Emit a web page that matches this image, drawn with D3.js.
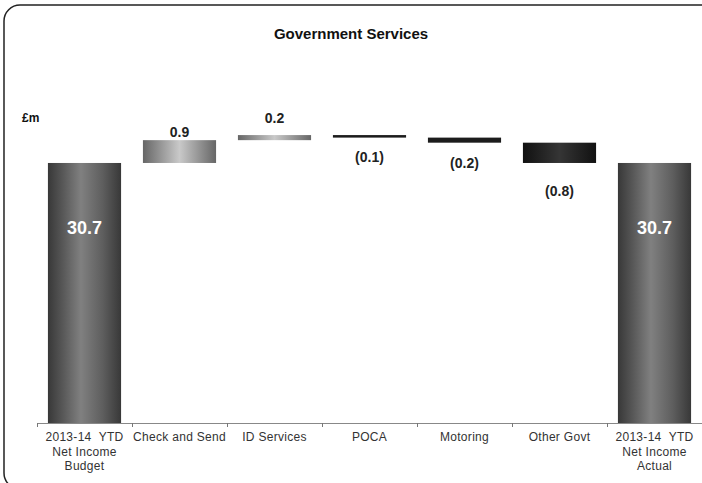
<!DOCTYPE html>
<html>
<head>
<meta charset="utf-8">
<script src="https://cdn.jsdelivr.net/npm/d3@7"></script>
<style>
  body { margin: 0; background: #fff; }
  svg { display: block; font-family: "Liberation Sans", Arial, sans-serif; }
</style>
</head>
<body>
<div id="chart"></div>
<script>
// waterfall data
const categories = ["Budget", "Check and Send", "ID Services", "POCA", "Motoring", "Other Govt", "Actual"];
const categoryLines = [
    ["2013-14  YTD", "Net Income", "Budget"],
    ["Check and Send"],
    ["ID Services"],
    ["POCA"],
    ["Motoring"],
    ["Other Govt"],
    ["2013-14  YTD", "Net Income", "Actual"]
];
const values = [30.7, 0.9, 0.2, -0.1, -0.2, -0.8, 30.7];
const isTotal = [true, false, false, false, false, false, true];
const valueLabels = ["30.7", "0.9", "0.2", "(0.1)", "(0.2)", "(0.8)", "30.7"];

function renderWaterfall(selector) {
    const W = 702, H = 483;
    const svg = d3.select(selector).append("svg")
        .attr("width", W)
        .attr("height", H);

    const defs = svg.append("defs");
    function grad(id, stops) {
        const g = defs.append("linearGradient").attr("id", id)
            .attr("x1", "0%").attr("x2", "100%").attr("y1", "0%").attr("y2", "0%");
        stops.forEach(s => g.append("stop").attr("offset", s[0]).attr("stop-color", s[1]));
    }
    grad("gTotal", [[0, "#383838"], [0.2, "#575757"], [0.45, "#808080"], [0.75, "#5e5e5e"], [1, "#383838"]]);
    grad("gUp", [[0, "#666"], [0.5, "#c9c9c9"], [1, "#666"]]);
    grad("gDown", [[0, "#111"], [0.5, "#353535"], [1, "#111"]]);

    // frame
    svg.append("rect")
        .attr("x", 4).attr("y", 5)
        .attr("width", 730).attr("height", 484)
        .attr("rx", 16)
        .attr("fill", "none")
        .attr("stroke", "#222")
        .attr("stroke-width", 1.5);

    svg.append("text")
        .attr("x", 351).attr("y", 39)
        .attr("text-anchor", "middle")
        .style("font-size", "15px").style("font-weight", "bold").style("fill", "#111")
        .text("Government Services");

    svg.append("text")
        .attr("x", 22).attr("y", 122)
        .style("font-size", "12px").style("font-weight", "bold").style("fill", "#111")
        .text("£m");

    const x = d3.scaleBand()
        .domain(categories)
        .range([37, 702])
        .paddingInner(0.23)
        .paddingOuter(0.115);

    const y = d3.scaleLinear()
        .domain([20.45, 32])
        .range([423, 130]);

    // running totals
    let run = 0;
    const bars = categories.map((c, i) => {
        let start, end;
        if (isTotal[i]) { start = y.domain()[0]; end = values[i]; run = values[i]; }
        else { start = run; end = run + values[i]; run = end; }
        return {cat: c, v: values[i], total: isTotal[i], lo: Math.min(start, end), hi: Math.max(start, end), label: valueLabels[i]};
    });

    const g = svg.append("g");
    g.selectAll("rect.bar")
        .data(bars)
        .enter()
        .append("rect")
        .attr("class", "bar")
        .attr("x", d => x(d.cat))
        .attr("width", x.bandwidth())
        .attr("y", d => y(d.hi))
        .attr("height", d => Math.max(2, y(d.lo) - y(d.hi)))
        .attr("fill", d => d.total ? "url(#gTotal)" : (d.v > 0 ? "url(#gUp)" : (d.v <= -0.5 ? "url(#gDown)" : "#1c1c1c")));

    // value labels
    g.selectAll("text.val")
        .data(bars)
        .enter()
        .append("text")
        .attr("class", "val")
        .attr("x", d => x(d.cat) + x.bandwidth() / 2)
        .attr("y", d => {
            const h = y(d.lo) - y(d.hi);
            if (d.total) return y(d.hi) + 71;
            if (d.v > 0) return y(d.hi) - 15 + h / 2;
            return y(d.lo) + 23 + h / 2;
        })
        .attr("text-anchor", "middle")
        .style("font-weight", "bold")
        .style("font-size", d => d.total ? "18px" : "14px")
        .style("fill", d => d.total ? "#fff" : "#222")
        .text(d => d.label);

    // axis
    const axis = svg.append("g");
    axis.append("line")
        .attr("x1", 37).attr("x2", 702)
        .attr("y1", 423.5).attr("y2", 423.5)
        .attr("stroke", "#888");
    const bounds = categories.map(c => x(c) - x.step() * x.paddingInner() / 2)
        .concat([x(categories[categories.length - 1]) + x.bandwidth() + x.step() * x.paddingInner() / 2]);
    axis.selectAll("line.tick")
        .data(bounds)
        .enter()
        .append("line")
        .attr("class", "tick")
        .attr("x1", d => Math.round(d) + 0.5).attr("x2", d => Math.round(d) + 0.5)
        .attr("y1", 423).attr("y2", 427)
        .attr("stroke", "#777");

    const labels = axis.selectAll("text.cat")
        .data(categories)
        .enter()
        .append("text")
        .attr("class", "cat")
        .attr("text-anchor", "middle")
        .style("font-size", "12px")
        .style("letter-spacing", "0.3px")
        .style("fill", "#333")
        .style("white-space", "pre")
        .attr("xml:space", "preserve");
    labels.each(function(c, i) {
        const t = d3.select(this);
        categoryLines[i].forEach((line, j) => {
            t.append("tspan")
                .attr("x", x(c) + x.bandwidth() / 2)
                .attr("y", 441 + j * 14.5)
                .text(line);
        });
    });
}

renderWaterfall("#chart");
</script>
</body>
</html>
